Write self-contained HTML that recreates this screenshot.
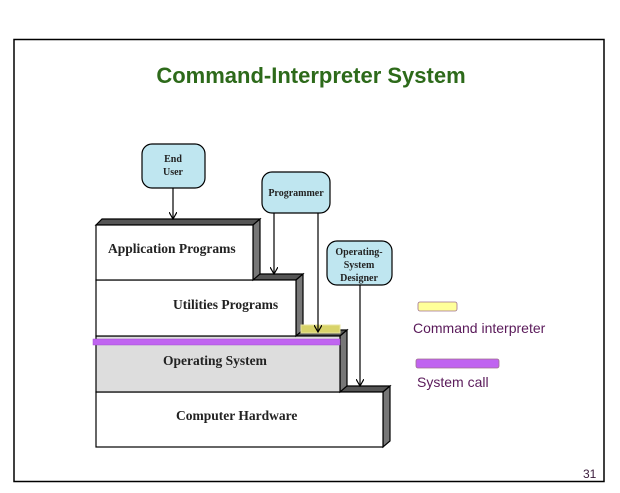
<!DOCTYPE html>
<html><head><meta charset="utf-8"><style>
body{margin:0;background:#fff;width:620px;height:488px;overflow:hidden}
</style></head><body>
<svg width="620" height="488" viewBox="0 0 620 488" xmlns="http://www.w3.org/2000/svg">
<defs><marker id="a" markerWidth="8" markerHeight="8" refX="7" refY="4" orient="auto" markerUnits="userSpaceOnUse"><path d="M0,0 L7,4 L0,8" fill="none" stroke="#000" stroke-width="1.2"/></marker></defs>
<rect x="14" y="39.5" width="590" height="442" fill="#fff" stroke="#000" stroke-width="1.5"/>
<text x="311" y="83" text-anchor="middle" font-family="Liberation Sans, sans-serif" font-weight="bold" font-size="22" fill="#2d6a1a">Command-Interpreter System</text>
<g stroke="#000" stroke-width="1.2">
<polygon points="340,392 346,386 390,386 383,392" fill="#555"/>
<polygon points="383,392 390,386 390,441 383,447" fill="#777"/>
<rect x="96" y="392" width="287" height="55" fill="#fff"/>
<polygon points="296,336 302,330 347,330 340,336" fill="#555"/>
<polygon points="340,336 347,330 347,386 340,392" fill="#777"/>
<rect x="96" y="336" width="244" height="56" fill="#ddd"/>
<polygon points="253,280 259,274 303,274 296,280" fill="#555"/>
<polygon points="296,280 303,274 303,330 296,336" fill="#777"/>
<rect x="96" y="280" width="200" height="56" fill="#fff"/>
<polygon points="96,225 102,219 260,219 253,225" fill="#555"/>
<polygon points="253,225 260,219 260,274 253,280" fill="#777"/>
<rect x="96" y="225" width="157" height="55" fill="#fff"/>
</g>
<rect x="301" y="325" width="39" height="8" fill="#d8d36a" stroke="#e8e4a0" stroke-width="1"/>
<rect x="93" y="339" width="247" height="6" fill="#c064f0" stroke="#a050d0" stroke-width="0.5"/>
<g stroke="#000" stroke-width="1.2" fill="#bfe6f0">
<rect x="142" y="144" width="63" height="44" rx="10"/>
<rect x="262" y="172" width="68" height="41" rx="10"/>
<rect x="327" y="241" width="65" height="44" rx="10"/>
</g>
<g stroke="#000" stroke-width="1.2" marker-end="url(#a)">
<line x1="173" y1="188" x2="173" y2="219"/>
<line x1="274" y1="213" x2="274" y2="274"/>
<line x1="318" y1="213" x2="318" y2="332"/>
<line x1="360" y1="285" x2="360" y2="386"/>
</g>
<g font-family="Liberation Serif, serif" font-weight="bold" fill="#222" text-anchor="middle">
<text x="173" y="162" font-size="10">End</text>
<text x="173" y="175" font-size="10">User</text>
<text x="296" y="196" font-size="10">Programmer</text>
<text x="359" y="255" font-size="10">Operating-</text>
<text x="359" y="268" font-size="10">System</text>
<text x="359" y="281" font-size="10">Designer</text>
</g>
<g font-family="Liberation Serif, serif" font-weight="bold" fill="#222" font-size="13.5">
<text x="108" y="253">Application Programs</text>
<text x="173" y="309">Utilities  Programs</text>
<text x="163" y="365">Operating System</text>
<text x="176" y="420">Computer Hardware</text>
</g>
<rect x="418" y="302" width="39" height="9" rx="2" fill="#ffff99" stroke="#a07090" stroke-width="0.8"/>
<rect x="416" y="359" width="83" height="9" rx="2" fill="#c064f0" stroke="#a07090" stroke-width="0.8"/>
<g font-family="Liberation Sans, sans-serif" fill="#5a1a5a" font-size="14">
<text x="413" y="333">Command interpreter</text>
<text x="417" y="387">System call</text>
</g>
<text x="583" y="478" font-family="Liberation Sans, sans-serif" font-size="12" fill="#3a1a3a">31</text>
</svg>
</body></html>
